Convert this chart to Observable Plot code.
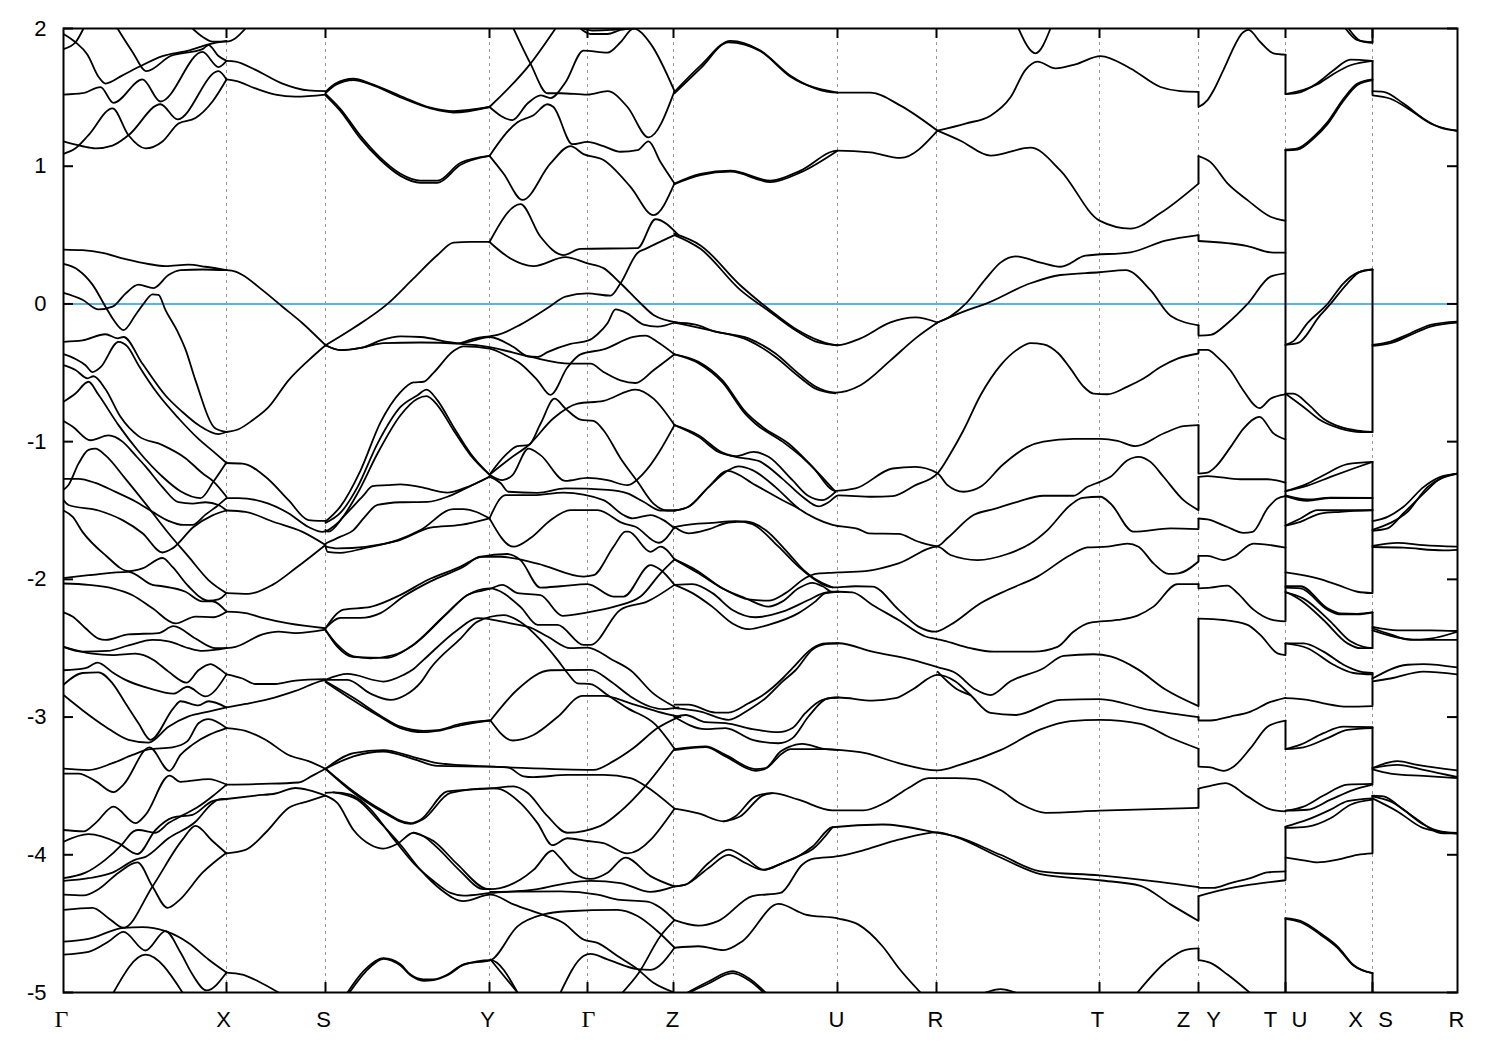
<!DOCTYPE html>
<html><head><meta charset="utf-8">
<script src="https://cdn.jsdelivr.net/npm/d3@7"></script>
<script src="https://cdn.jsdelivr.net/npm/@observablehq/plot@0.6"></script>
<style>html,body{margin:0;padding:0;background:#fff}svg{display:block}</style>
</head><body><div id="chart"></div>
<script>
// Every band is a flat list: k, E, k, E ... (k = distance along the path, E = energy in eV)
const bandsGammaX = [
[63,1.96,75,1.90,87,1.81,98,1.65,105,1.60,122,1.66,138,1.72,162,1.80,188,1.84,208,1.885,226,1.91],
[63,1.85,75,1.90,83,2],
[192,2,202,1.94,212,1.905,226,1.905,235,1.93,245,2],
[117,2,132,1.83,146,1.69,170,1.80,202,1.85,208,1.88,218,1.80,226,1.765],
[63,1.52,82,1.53,100,1.575,113,1.46,142,1.63,160,1.47,202,1.83,218,1.72,226,1.765],
[63,1.09,75,1.13,88,1.225,112,1.42,128,1.225,145,1.13,162,1.18,178,1.31,195,1.35,212,1.47,226,1.63],
[63,1.18,82,1.145,95,1.13,112,1.15,128,1.225,160,1.45,177,1.34,218,1.69,226,1.63],
[63,.395,82,.39,102,.37,125,.325,148,.29,165,.275,188,.285,205,.27,226,.245],
[63,.29,78,.245,92,.14,105,-.02,113,-.115,123,-.19,135,-.08,143,0,152,.07,158,.065,165,-.045,177,-.20,185,-.33,195,-.555,215,-.905,226,-.93],
[63,.08,82,.03,98,-.04,112,-.02,125,.075,138,.14,153,.115,168,.21,180,.245,202,.25,226,.245],
[63,-.275,82,-.265,105,-.22,117,-.25,123,-.24,142,-.435,165,-.665,182,-.785,198,-.88,218,-.945,226,-.93],
[63,-.365,75,-.40,85,-.445,92,-.495,100,-.46,118,-.275,127,-.31,138,-.445,158,-.66,178,-.83,198,-.98,215,-1.085,226,-1.155],
[63,-.445,75,-.48,87,-.54,93,-.525,105,-.62,120,-.82,138,-.96,162,-1.025,185,-1.12,202,-1.23,213,-1.29,226,-1.40],
[63,-.71,75,-.65,88,-.565,98,-.66,118,-.88,138,-1.07,162,-1.255,180,-1.36,200,-1.41,213,-1.29,226,-1.15],
[63,-.85,72,-.89,90,-.99,108,-.955,122,-1.0,135,-1.10,145,-1.18,162,-1.33,178,-1.44,192,-1.45,205,-1.44,218,-1.46,226,-1.50],
[63,-1.35,68,-1.315,78,-1.16,88,-1.06,95,-1.05,105,-1.10,125,-1.27,145,-1.45,168,-1.665,188,-1.835,208,-2.005,226,-2.10],
[63,-1.27,78,-1.27,95,-1.30,115,-1.365,135,-1.435,152,-1.51,168,-1.575,183,-1.605,192,-1.605,205,-1.53,218,-1.46,226,-1.41],
[63,-1.425,68,-1.46,98,-1.50,122,-1.57,142,-1.665,162,-1.805,172,-1.775,193,-1.62,212,-1.535,226,-1.50],
[63,-1.50,72,-1.545,82,-1.655,105,-1.825,128,-1.94,142,-1.92,162,-1.845,172,-1.91,188,-2.05,208,-2.155,218,-2.145,226,-2.10],
[63,-1.99,88,-1.97,128,-1.945,152,-2.04,162,-2.05,185,-2.09,202,-2.16,212,-2.16,226,-2.235],
[63,-2.03,88,-2.04,112,-2.065,132,-2.115,152,-2.21,175,-2.32,195,-2.27,213,-2.275,226,-2.235],
[63,-2.24,72,-2.27,85,-2.355,98,-2.43,105,-2.44,128,-2.40,158,-2.39,173,-2.34,195,-2.43,215,-2.50,226,-2.50],
[63,-2.49,82,-2.525,107,-2.52,128,-2.48,152,-2.44,168,-2.45,188,-2.50,202,-2.52,226,-2.50],
[63,-2.49,92,-2.54,112,-2.55,135,-2.54,153,-2.585,168,-2.67,186,-2.75,198,-2.66,210,-2.615,218,-2.645,226,-2.69],
[63,-2.66,85,-2.645,97,-2.605,113,-2.68,125,-2.73,148,-2.79,173,-2.83,187,-2.78,205,-2.85,226,-2.69],
[63,-2.765,82,-2.68,98,-2.675,112,-2.755,125,-2.90,138,-3.045,150,-3.165,173,-2.935,180,-2.885,198,-2.915,208,-2.885,226,-2.93],
[63,-2.84,82,-2.95,105,-3.07,128,-3.165,148,-3.185,168,-3.07,188,-2.995,208,-2.96,226,-2.93],
[63,-3.375,88,-3.385,112,-3.335,132,-3.275,148,-3.235,172,-3.22,187,-3.175,198,-3.045,208,-3.015,226,-3.08],
[63,-3.41,78,-3.41,95,-3.465,113,-3.545,123,-3.49,149,-3.22,169,-3.39,180,-3.275,192,-3.20,226,-3.08],
[63,-3.82,83,-3.83,95,-3.77,113,-3.65,135,-3.77,145,-3.71,169,-3.425,180,-3.47,208,-3.45,226,-3.49],
[63,-4.17,85,-4.13,105,-4.035,122,-3.92,133,-3.83,138,-3.82,155,-3.84,168,-3.77,183,-3.71,198,-3.65,212,-3.575,226,-3.49],
[63,-3.905,88,-3.85,118,-3.915,137,-3.995,155,-3.82,172,-3.73,192,-3.71,212,-3.61,218,-3.60,226,-3.595],
[63,-4.19,88,-4.17,112,-4.13,135,-4.035,145,-4.015,168,-3.88,195,-3.76,212,-3.625,218,-3.60,226,-3.595],
[63,-4.29,83,-4.295,98,-4.25,118,-4.13,137,-4.055,152,-4.23,167,-4.385,178,-4.335,202,-4.13,226,-3.985],
[63,-4.40,92,-4.385,108,-4.46,123,-4.53,152,-4.23,182,-3.89,195,-3.79,212,-3.90,226,-3.99],
[63,-4.63,88,-4.61,123,-4.53,142,-4.525,165,-4.555,188,-4.64,208,-4.76,226,-4.855],
[63,-4.725,88,-4.705,108,-4.63,123,-4.56,145,-4.695,165,-4.555,180,-4.71,192,-4.87,206,-4.985,226,-4.855],
[113,-5,145,-4.725,182,-5]
];
const bandsXS = [
[226,1.765,235,1.76,255,1.70,282,1.60,308,1.55,325,1.545],
[226,1.63,235,1.62,255,1.565,275,1.52,295,1.505,325,1.52],
[226,.245,235,.235,242,.21,262,.10,282,-.02,302,-.14,325,-.30],
[226,-.93,238,-.91,252,-.845,268,-.75,288,-.555,308,-.41,325,-.30],
[226,-1.155,242,-1.16,265,-1.255,288,-1.425,308,-1.57,318,-1.575,325,-1.575],
[226,-1.41,238,-1.41,268,-1.45,288,-1.52,308,-1.62,322,-1.655,325,-1.65],
[226,-1.50,245,-1.51,272,-1.58,302,-1.655,325,-1.75],
[226,-2.10,248,-2.105,272,-2.04,295,-1.92,325,-1.75],
[226,-2.235,245,-2.245,262,-2.28,288,-2.32,325,-2.355],
[226,-2.50,235,-2.49,262,-2.40,278,-2.38,295,-2.39,325,-2.365],
[226,-2.69,242,-2.72,255,-2.76,275,-2.76,295,-2.735,325,-2.725],
[226,-2.93,245,-2.905,268,-2.87,295,-2.81,322,-2.735,325,-2.73],
[226,-3.08,245,-3.10,265,-3.165,288,-3.275,308,-3.32,325,-3.375],
[226,-3.49,262,-3.485,298,-3.475,312,-3.425,325,-3.375],
[226,-3.595,255,-3.57,275,-3.555,295,-3.515,308,-3.53,325,-3.57],
[226,-3.99,245,-3.965,265,-3.84,288,-3.66,308,-3.61,325,-3.57],
[226,-4.855,242,-4.87,258,-4.92,278,-5]
];
const bandsSY = [
[325,1.54,335,1.60,353,1.635,370,1.60,400,1.51,430,1.425,453,1.40,489,1.43],
[325,1.53,335,1.59,353,1.625,370,1.595,400,1.50,430,1.42,453,1.39,489,1.43],
[325,1.525,340,1.415,360,1.22,380,1.06,400,.945,420,.895,437,.895,460,1.025,489,1.075],
[325,1.515,340,1.40,360,1.20,380,1.045,400,.93,420,.88,437,.88,460,1.01,489,1.075],
[325,-.30,353,-.175,387,0,413,.185,437,.355,453,.445,470,.45,489,.45],
[325,-.30,340,-.335,363,-.315,380,-.265,400,-.235,420,-.24,460,-.285,489,-.24,513,-.313,527,-.38,537,-.385,547,-.35,570,-.29,588,-.265,597,-.22,607,-.14,615,-.04,627,-.07,643,-.15,657,-.165,674,-.135],
[325,-.30,340,-.335,363,-.315,383,-.285,420,-.28,460,-.29,489,-.313,530,-.385,570,-.434,590,-.434,603,-.494,620,-.555,635,-.574,653,-.482,674,-.366],
[325,-1.58,340,-1.47,360,-1.21,380,-.86,400,-.64,413,-.57,423,-.565,433,-.50,453,-.342,463,-.308,489,-.325,507,-.38,520,-.434,537,-.555,550,-.66,567,-.46,580,-.366,603,-.33,633,-.24,645,-.23,657,-.276,674,-.366],
[325,-1.59,340,-1.516,357,-1.33,377,-1.014,400,-.748,417,-.663,426,-.622,437,-.70,453,-.893,470,-1.086,489,-1.24],
[325,-1.655,340,-1.57,357,-1.376,377,-1.086,400,-.808,417,-.688,426,-.67,437,-.736,453,-.917,470,-1.098,489,-1.24],
[325,-1.64,328,-1.654,343,-1.545,363,-1.39,372,-1.323,387,-1.316,400,-1.31,420,-1.33,447,-1.37,463,-1.34,489,-1.255],
[325,-1.74,340,-1.69,353,-1.642,363,-1.557,377,-1.46,400,-1.44,427,-1.437,447,-1.40,463,-1.347,489,-1.255],
[325,-1.76,327,-1.80,340,-1.807,363,-1.775,397,-1.715,420,-1.642,453,-1.49,463,-1.49,489,-1.557],
[325,-1.76,337,-1.775,397,-1.72,430,-1.625,460,-1.605,489,-1.557],
[325,-2.355,343,-2.22,370,-2.20,400,-2.113,427,-2.005,460,-1.908,480,-1.836,507,-1.816,520,-1.86,540,-2.06,560,-2.05,587,-2.034,613,-2.125,623,-2.125,650,-1.896,660,-1.93,674,-2.04],
[325,-2.355,340,-2.28,360,-2.28,380,-2.245,403,-2.125,430,-2.015,463,-1.908,480,-1.836,500,-1.836,537,-1.885,583,-1.98,593,-1.97,613,-1.763,625,-1.654,628,-1.654,650,-1.80,660,-1.763,674,-1.855],
[325,-2.367,337,-2.476,353,-2.56,370,-2.573,393,-2.55,413,-2.476,447,-2.245,467,-2.113,489,-2.07,502,-2.04,517,-2.10,540,-2.115,562,-2.265,587,-2.24,613,-2.20,640,-2.125,660,-1.956,674,-1.855],
[325,-2.367,337,-2.49,353,-2.565,387,-2.57,410,-2.49,443,-2.27,467,-2.113,489,-2.065,520,-2.20,537,-2.33,557,-2.33,583,-2.476,590,-2.476,620,-2.22,647,-2.16,674,-2.04],
[325,-2.73,347,-2.687,383,-2.742,403,-2.694,412,-2.657,423,-2.585,457,-2.367,477,-2.282,490,-2.29,510,-2.32,530,-2.35,547,-2.415,570,-2.50,587,-2.495,612,-2.585,630,-2.66,653,-2.83,674,-2.925],
[325,-2.73,347,-2.73,370,-2.83,390,-2.875,405,-2.84,420,-2.75,430,-2.645,460,-2.43,477,-2.307,503,-2.26,520,-2.31,540,-2.44,557,-2.585,567,-2.68,577,-2.755,590,-2.76,607,-2.84,627,-2.935,655,-3.055,674,-3.23],
[325,-2.74,353,-2.86,380,-2.99,400,-3.07,423,-3.10,437,-3.095,460,-3.05,489,-3.025],
[325,-2.745,353,-2.88,380,-3.0,400,-3.08,423,-3.11,437,-3.10,460,-3.06,489,-3.025],
[325,-3.375,353,-3.262,383,-3.24,413,-3.29,437,-3.335,490,-3.36,507,-3.365,593,-3.383,613,-3.32,633,-3.225,657,-3.08,678,-3.0],
[325,-3.375,353,-3.285,383,-3.25,413,-3.305,437,-3.355,490,-3.36,507,-3.365,523,-3.43,533,-3.436,567,-3.42,603,-3.42,630,-3.443,645,-3.50,674,-3.665],
[325,-3.375,353,-3.54,380,-3.67,410,-3.77,420,-3.745,447,-3.54,490,-3.518,513,-3.503,527,-3.55,547,-3.72,567,-3.84,600,-3.79,620,-3.685,645,-3.50,674,-3.23],
[325,-3.375,353,-3.55,380,-3.68,410,-3.775,423,-3.74,450,-3.55,490,-3.518,497,-3.52,520,-3.625,537,-3.77,552,-3.93,567,-3.88,587,-3.90,603,-3.915,627,-3.99,674,-3.665],
[325,-3.57,337,-3.625,353,-3.82,370,-3.927,383,-3.955,397,-3.92,413,-3.84,423,-3.865,437,-3.95,460,-4.12,483,-4.25,490,-4.25,520,-4.18,533,-4.11,552,-3.97,558,-4.01,573,-4.13,590,-4.175,607,-4.13,625,-4.02,650,-4.155,674,-4.23],
[413,-3.84,433,-3.90,457,-4.07,485,-4.245,490,-4.25],
[325,-3.55,333,-3.547,350,-3.564,370,-3.67,390,-3.855,413,-4.06,433,-4.19,450,-4.277,463,-4.296,490,-4.277,537,-4.25,567,-4.205,590,-4.19,620,-4.205,650,-4.27,674,-4.23],
[333,-3.547,357,-3.6,377,-3.745,400,-3.927,420,-4.11,440,-4.25,463,-4.337,490,-4.29,513,-4.36,542,-4.435,563,-4.495,583,-4.615,597,-4.64,617,-4.735,637,-4.83,653,-4.93,672,-4.995],
[490,-4.27,560,-4.265,597,-4.29,617,-4.325,647,-4.34,660,-4.385,674,-4.475],
[347,-5,363,-4.845,383,-4.75,400,-4.795,410,-4.87,423,-4.905,433,-4.905,447,-4.87,463,-4.795,490,-4.765,517,-4.52,542,-4.435,567,-4.41,617,-4.40,637,-4.445,657,-4.555,674,-4.675],
[349,-5,365,-4.85,383,-4.755,400,-4.805,410,-4.875,423,-4.915,433,-4.91,447,-4.875,463,-4.80,490,-4.765,517,-5]
];
const bandsYGammaZ = [
[489,1.43,530,1.745,555,2],
[489,1.43,512,1.335,527,1.455,540,1.515,550,1.495,565,1.61,583,1.84,607,1.825,620,1.90,633,2,650,1.89,674,1.545],
[580,2,590,1.96,607,1.96,620,1.99,633,2],
[582,2,592,1.985,610,1.99,622,2],
[513,2,530,1.745,547,1.53,560,1.53,587,1.52,607,1.545,627,1.43,648,1.21,674,1.545],
[489,1.075,517,1.32,533,1.37,547,1.45,553,1.43,572,1.16,587,1.177,603,1.146,620,1.105,637,1.117,648,1.18,660,1.03,674,.875],
[489,1.075,503,.947,522,.755,550,1.02,570,1.146,583,1.088,603,1.045,630,.85,653,.645,674,.875],
[489,.45,520,.725,540,.488,563,.355,580,.40,637,.405,655,.615,678,.50],
[489,.45,510,.33,533,.275,565,.34,587,.295,603,.26,620,.15,640,.005,653,-.08,677,-.135],
[460,-.285,475,-.25,489,-.235,497,-.225,520,-.15,547,-.03,565,.053,587,.077,610,.06,620,.15,637,.37,645,.40,674,.50],
[489,-1.24,502,-1.28,512,-1.243,528,-1.05,540,-1.098,565,-1.285,587,-1.263,607,-1.28,627,-1.316,643,-1.23,674,-.88],
[489,-1.24,505,-1.098,517,-1.033,528,-1.026,540,-.87,554,-.688,565,-.76,580,-.84,593,-.85,603,-.917,620,-1.12,637,-1.29,653,-1.45,667,-1.50,674,-1.50],
[489,-1.24,510,-1.12,528,-1.026,553,-.83,577,-.724,603,-.704,635,-.622,653,-.688,674,-.88],
[489,-1.255,500,-1.30,508,-1.364,537,-1.372,565,-1.34,607,-1.35,627,-1.376,643,-1.437,660,-1.50,674,-1.50],
[489,-1.557,505,-1.388,533,-1.388,563,-1.37,603,-1.425,623,-1.533,632,-1.557,650,-1.533,663,-1.57,674,-1.63],
[489,-1.557,513,-1.763,530,-1.70,550,-1.57,570,-1.497,597,-1.497,623,-1.594,635,-1.618,658,-1.734,674,-1.62],
[490,-3.025,517,-2.80,550,-2.66,590,-2.657,610,-2.74,630,-2.85,650,-2.925,663,-2.943,678,-2.93],
[490,-3.025,512,-3.17,533,-3.13,557,-3.0,582,-2.846,603,-2.846,630,-2.90,657,-2.96,680,-3.0],
[490,-4.76,517,-5],
[560,-5,583,-4.735,590,-4.72,607,-4.76,637,-4.83,650,-4.835,674,-4.675],
[622,-5,638,-4.86,660,-4.59,674,-4.475]
];
const bandsZU = [
[674,1.54,700,1.73,730,1.91,760,1.84,790,1.657,837,1.534,870,1.534,900,1.44,937,1.258],
[674,1.53,700,1.71,728,1.90,760,1.835,790,1.65,837,1.534],
[674,.874,700,.945,730,.967,770,.895,800,.968,837,1.113,870,1.10,900,1.06,937,1.258],
[674,.87,700,.935,730,.96,770,.885,800,.955,837,1.113],
[674,.51,700,.425,740,.134,770,-.047,797,-.19,818,-.265,837,-.30,860,-.25,890,-.134,915,-.098,937,-.135],
[674,.50,700,.40,740,.10,770,-.06,797,-.20,818,-.28,837,-.30],
[674,-.135,695,-.15,713,-.197,748,-.25,775,-.36,798,-.506,815,-.60,835,-.644,860,-.59,890,-.41,915,-.25,937,-.135],
[674,-.135,713,-.197,748,-.265,775,-.385,798,-.525,815,-.615,835,-.65],
[674,-.366,698,-.42,722,-.555,745,-.784,762,-.893,788,-1.014,812,-1.183,835,-1.357,855,-1.34,892,-1.195,915,-1.183,937,-1.23,947,-1.316,963,-1.364,980,-1.328,1002,-1.17,1027,-1.038,1043,-1.0,1073,-.98,1100,-.98,1117,-.994,1135,-1.033,1163,-.941,1183,-.888,1198,-.88],
[674,-.366,698,-.43,722,-.57,745,-.80,755,-.87,782,-1.0,805,-1.135,835,-1.365],
[674,-.88,698,-.953,722,-1.08,735,-1.105,753,-1.075,768,-1.11,792,-1.28,808,-1.395,822,-1.425,835,-1.365],
[674,-.88,698,-.965,718,-1.075,735,-1.11,758,-1.14,782,-1.27,802,-1.40,818,-1.47,828,-1.44,838,-1.39,872,-1.40,892,-1.396,915,-1.316,937,-1.23,950,-1.086,963,-.917,980,-.663,1000,-.446,1018,-.325,1030,-.284,1043,-.293,1058,-.36,1070,-.47,1083,-.60,1093,-.651,1107,-.656,1127,-.60,1143,-.542,1160,-.458,1177,-.397,1198,-.36],
[674,-1.50,688,-1.473,708,-1.33,728,-1.207,738,-1.18,752,-1.207,775,-1.33,798,-1.485,815,-1.557,832,-1.605,858,-1.635,868,-1.666,898,-1.67,918,-1.727,937,-1.758,947,-1.70,973,-1.533,993,-1.49,1017,-1.437,1043,-1.393,1073,-1.393,1087,-1.328,1100,-1.29,1110,-1.255,1127,-1.135,1138,-1.11,1150,-1.147,1163,-1.255,1183,-1.425,1198,-1.497],
[674,-1.50,688,-1.473,708,-1.33,727,-1.212,755,-1.316,785,-1.437,798,-1.485],
[674,-1.62,688,-1.666,708,-1.637,728,-1.587,745,-1.58,765,-1.642,785,-1.787,805,-1.945,813,-1.99,832,-2.058],
[674,-1.62,685,-1.606,712,-1.59,735,-1.577,752,-1.60,778,-1.763,798,-1.908,812,-1.99,832,-2.058,855,-2.05,872,-2.053,898,-2.22,918,-2.343,935,-2.38,950,-2.33,980,-2.174,1007,-2.077,1037,-1.98,1070,-1.823,1087,-1.768,1107,-1.763,1127,-1.74,1138,-1.763,1153,-1.884,1168,-1.96,1178,-1.956,1198,-1.87],
[674,-1.855,698,-1.956,725,-2.077,748,-2.145,768,-2.155,785,-2.10,805,-1.99,815,-1.96,828,-1.953,838,-1.95,865,-1.94,898,-1.884,937,-1.763,950,-1.823,977,-1.86,1007,-1.816,1030,-1.74,1047,-1.642,1070,-1.46,1082,-1.408,1100,-1.40,1110,-1.449,1133,-1.654,1170,-1.63,1198,-1.635],
[674,-1.855,695,-1.93,722,-2.065,745,-2.137,768,-2.198,782,-2.16,798,-2.065,812,-2.025,822,-2.05,832,-2.09,838,-2.09,852,-2.095,872,-2.186,898,-2.295,925,-2.415,937,-2.435,943,-2.445,970,-2.50,993,-2.525,1033,-2.525,1057,-2.49,1073,-2.38,1090,-2.315,1117,-2.295,1137,-2.263,1153,-2.198,1177,-2.034,1198,-2.034],
[674,-2.04,692,-2.034,712,-2.10,732,-2.222,755,-2.275,782,-2.235,808,-2.15,825,-2.096,838,-2.09],
[674,-2.04,692,-2.10,712,-2.20,732,-2.32,748,-2.362,768,-2.33,798,-2.245,815,-2.16,825,-2.10,838,-2.09],
[674,-2.91,688,-2.91,715,-2.967,728,-2.967,748,-2.90,765,-2.827,782,-2.72,792,-2.645,812,-2.50,825,-2.465,838,-2.464,872,-2.525,912,-2.585,937,-2.638,955,-2.68,975,-2.80,990,-2.84,1010,-2.74,1043,-2.645,1063,-2.556,1093,-2.544,1110,-2.56,1137,-2.652,1165,-2.80,1198,-2.92],
[674,-2.935,700,-2.96,728,-3.02,748,-2.948,765,-2.863,782,-2.742,795,-2.66,812,-2.51,825,-2.47,838,-2.464],
[674,-3.0,685,-2.985,705,-3.037,725,-3.044,752,-3.088,778,-3.11,792,-3.08,805,-2.97,822,-2.875,838,-2.858,872,-2.88,895,-2.863,912,-2.80,937,-2.694,955,-2.742,970,-2.84,990,-2.97,1015,-2.985,1060,-2.875,1099,-2.87,1150,-2.95,1198,-3.0],
[674,-3.0,705,-3.088,725,-3.08,752,-3.165,778,-3.19,792,-3.153,808,-2.996,828,-2.863,838,-2.858],
[674,-3.233,705,-3.213,725,-3.274,755,-3.378,765,-3.37,780,-3.25,788,-3.218,802,-3.194,825,-3.233,838,-3.238,865,-3.262,898,-3.334,937,-3.387,960,-3.345,1000,-3.24,1040,-3.09,1070,-3.03,1100,-3.02,1140,-3.05,1170,-3.15,1198,-3.23],
[674,-3.24,705,-3.218,725,-3.285,755,-3.39,765,-3.375,782,-3.262,790,-3.233,825,-3.233,838,-3.238],
[674,-3.665,698,-3.70,723,-3.757,735,-3.72,755,-3.576,772,-3.552,798,-3.60,832,-3.677,863,-3.677,885,-3.62,908,-3.515,928,-3.443,955,-3.443,975,-3.45,1000,-3.53,1020,-3.63,1045,-3.695,1099,-3.68,1198,-3.66],
[723,-3.757,740,-3.72,762,-3.57,772,-3.552],
[674,-4.23,685,-4.217,708,-4.06,728,-3.963,745,-4.023,763,-4.108,782,-4.06,798,-4.01,812,-3.94,832,-3.80,882,-3.78,937,-3.84,955,-3.866,1000,-4.0,1040,-4.12,1099,-4.15,1150,-4.19,1198,-4.235],
[674,-4.23,685,-4.217,708,-4.096,728,-4.0,745,-4.06,763,-4.11,782,-4.06,798,-4.01,812,-3.96,832,-3.80],
[674,-4.475,698,-4.515,718,-4.48,752,-4.30,780,-4.277,802,-4.07,812,-4.03,838,-4.01,865,-3.963,898,-3.89,937,-3.837,955,-3.87,1000,-4.02,1040,-4.14,1099,-4.185,1140,-4.225,1170,-4.36,1198,-4.48],
[674,-4.675,698,-4.664,723,-4.693,742,-4.627,778,-4.357,805,-4.434,838,-4.463,858,-4.507,882,-4.664,898,-4.82,920,-5],
[687,-5,708,-4.92,732,-4.845,748,-4.895,765,-5],
[689,-5,708,-4.935,732,-4.86,748,-4.91,763,-5]
];
const bandsRTZ = [
[937,1.258,965,1.31,990,1.367,1010,1.50,1025,1.70,1037,1.76,1055,1.71,1075,1.74,1100,1.80,1130,1.71,1160,1.575,1180,1.545,1198,1.54],
[937,1.258,960,1.185,990,1.077,1030,1.135,1060,.968,1099,.605,1130,.547,1160,.66,1198,.874],
[1018,2,1035,1.82,1050,2],
[937,-.135,950,-.09,965,0,985,.18,1000,.30,1015,.345,1040,.30,1060,.27,1085,.35,1130,.375,1165,.46,1198,.50],
[937,-.135,965,-.05,985,0,1030,.15,1060,.21,1099,.23,1125,.245,1150,.10,1170,-.085,1198,-.155],
[937,-2.67,955,-2.79,970,-2.84],
[985,-5,1000,-4.975,1015,-5],
[1137,-5,1165,-4.78,1185,-4.69,1198,-4.68]
];
const bandsYT = [
[1198,1.43,1207,1.48,1213,1.55,1223,1.70,1243,1.975,1248,1.99,1260,1.90,1273,1.82,1285,1.81],
[1198,1.073,1210,1.03,1227,.875,1247,.754,1270,.633,1285,.604],
[1198,.457,1247,.42,1270,.375,1285,.372],
[1198,-.23,1210,-.225,1227,-.14,1247,0,1270,.198,1285,.222],
[1198,-.333,1207,-.333,1217,-.386,1230,-.483,1243,-.63,1259,-.756,1270,-.688,1285,-.656],
[1198,-1.232,1207,-1.225,1215,-1.183,1230,-1.04,1243,-.905,1259,-.82,1273,-.94,1285,-.983],
[1198,-1.256,1207,-1.25,1240,-1.273,1267,-1.273,1285,-1.297],
[1198,-1.558,1207,-1.565,1227,-1.62,1243,-1.662,1252,-1.655,1267,-1.485,1277,-1.413,1285,-1.396],
[1198,-1.83,1207,-1.83,1223,-1.86,1233,-1.836,1253,-1.74,1285,-1.77],
[1198,-2.065,1210,-2.06,1227,-2.045,1237,-2.10,1253,-2.22,1270,-2.29,1285,-2.305],
[1198,-2.285,1223,-2.295,1247,-2.33,1260,-2.405,1277,-2.537,1285,-2.55],
[1198,-3.025,1210,-3.025,1230,-2.996,1250,-2.96,1270,-2.89,1285,-2.86],
[1198,-3.36,1210,-3.366,1223,-3.39,1233,-3.36,1250,-3.226,1267,-3.07,1285,-3.025],
[1198,-3.52,1210,-3.50,1225,-3.48,1247,-3.576,1270,-3.67,1285,-3.685],
[1198,-4.24,1213,-4.24,1230,-4.205,1250,-4.17,1267,-4.128,1285,-4.12],
[1198,-4.30,1223,-4.253,1250,-4.217,1285,-4.185],
[1198,-4.765,1210,-4.785,1227,-4.87,1249,-5]
];
const bandsUX = [
[1285,1.523,1297,1.532,1317,1.605,1333,1.697,1350,1.774,1372,1.765],
[1285,1.523,1317,1.595,1333,1.67,1350,1.733,1372,1.765],
[1285,1.12,1297,1.13,1313,1.213,1327,1.32,1343,1.49,1357,1.60,1372,1.63],
[1285,1.115,1297,1.12,1313,1.20,1327,1.305,1343,1.475,1357,1.59,1372,1.625],
[1345,2,1357,1.915,1372,1.90],
[1348,2,1360,1.91,1372,1.895],
[1285,-.297,1293,-.27,1307,-.14,1327,0,1343,.15,1357,.227,1372,.25],
[1285,-.297,1297,-.285,1320,-.08,1330,0,1347,.15,1360,.235,1372,.25],
[1285,-.652,1293,-.652,1307,-.724,1323,-.833,1340,-.893,1357,-.92,1372,-.93],
[1285,-.652,1303,-.748,1320,-.845,1340,-.905,1360,-.93,1372,-.93],
[1285,-1.36,1307,-1.305,1323,-1.244,1347,-1.164,1372,-1.147],
[1285,-1.36,1307,-1.32,1330,-1.256,1353,-1.195,1372,-1.147],
[1285,-1.39,1307,-1.42,1330,-1.406,1372,-1.408],
[1285,-1.395,1307,-1.43,1330,-1.41,1372,-1.41],
[1285,-1.61,1300,-1.558,1317,-1.498,1340,-1.498,1372,-1.498],
[1285,-1.61,1300,-1.582,1320,-1.522,1340,-1.51,1372,-1.498],
[1285,-1.95,1317,-1.993,1337,-2.04,1357,-2.09,1372,-2.10],
[1285,-2.05,1300,-2.05,1327,-2.21,1340,-2.247,1357,-2.25,1372,-2.24],
[1285,-2.06,1300,-2.065,1327,-2.22,1340,-2.255,1357,-2.255,1372,-2.24],
[1285,-2.09,1300,-2.15,1323,-2.295,1347,-2.465,1360,-2.50,1372,-2.50],
[1285,-2.095,1303,-2.14,1330,-2.307,1350,-2.45,1363,-2.49,1372,-2.50],
[1285,-2.465,1303,-2.465,1323,-2.525,1343,-2.62,1360,-2.67,1372,-2.68],
[1285,-2.465,1307,-2.50,1333,-2.62,1353,-2.68,1372,-2.69],
[1285,-2.863,1307,-2.875,1323,-2.90,1347,-2.924,1372,-2.92],
[1285,-3.233,1300,-3.2,1323,-3.117,1343,-3.07,1372,-3.074],
[1285,-3.233,1303,-3.22,1327,-3.153,1347,-3.093,1372,-3.08],
[1285,-3.68,1303,-3.65,1323,-3.57,1347,-3.49,1372,-3.485],
[1285,-3.68,1307,-3.673,1330,-3.60,1353,-3.528,1372,-3.49],
[1285,-3.795,1307,-3.745,1330,-3.672,1347,-3.61,1372,-3.59],
[1285,-3.805,1307,-3.795,1330,-3.735,1350,-3.637,1372,-3.60],
[1285,-4.02,1303,-4.04,1317,-4.055,1337,-4.035,1357,-4.0,1372,-3.99],
[1285,-4.46,1300,-4.48,1320,-4.57,1337,-4.665,1353,-4.80,1372,-4.86],
[1285,-4.465,1300,-4.49,1320,-4.58,1337,-4.675,1353,-4.805,1372,-4.86]
];
const bandsSR = [
[1372,1.545,1383,1.54,1403,1.455,1423,1.345,1440,1.28,1457,1.257],
[1372,1.515,1390,1.49,1410,1.407,1430,1.31,1457,1.257],
[1372,-.297,1390,-.273,1410,-.213,1430,-.152,1457,-.128],
[1372,-.305,1390,-.285,1410,-.225,1430,-.165,1457,-.135],
[1372,-1.577,1387,-1.546,1403,-1.473,1423,-1.33,1440,-1.256,1457,-1.232],
[1372,-1.647,1387,-1.63,1403,-1.52,1423,-1.377,1440,-1.268,1457,-1.232],
[1372,-1.64,1390,-1.59,1407,-1.51,1427,-1.33,1457,-1.232],
[1372,-1.757,1397,-1.735,1423,-1.752,1457,-1.763],
[1372,-1.765,1403,-1.77,1443,-1.79,1457,-1.785],
[1372,-2.345,1397,-2.37,1430,-2.37,1457,-2.375],
[1372,-2.355,1390,-2.40,1410,-2.44,1430,-2.43,1457,-2.38],
[1372,-2.37,1403,-2.43,1423,-2.44,1457,-2.44],
[1372,-2.72,1407,-2.62,1423,-2.615,1457,-2.64],
[1372,-2.74,1390,-2.72,1423,-2.67,1457,-2.69],
[1372,-3.37,1397,-3.32,1417,-3.347,1457,-3.388],
[1372,-3.37,1397,-3.347,1423,-3.383,1457,-3.436],
[1372,-3.38,1390,-3.41,1423,-3.427,1457,-3.443],
[1372,-3.57,1383,-3.576,1403,-3.673,1423,-3.78,1440,-3.83,1457,-3.842],
[1372,-3.59,1397,-3.685,1423,-3.806,1457,-3.847],
[1372,-3.575,1390,-3.612,1417,-3.745,1440,-3.842,1457,-3.845]
];
// Straight jumps where the path breaks: k, E from, E to
const pathJumps = [
[1198,1.54,1.43],[1198,.87,1.073],[1198,.50,.457],[1198,-.155,-.23],[1198,-.36,-.333],[1198,-.88,-1.232],[1198,-1.256,-1.497],[1198,-1.558,-1.635],[1198,-1.83,-1.87],[1198,-2.034,-2.065],[1198,-2.285,-2.92],[1198,-3.0,-3.025],[1198,-3.23,-3.36],[1198,-3.52,-3.66],[1198,-4.235,-4.24],[1198,-4.30,-4.48],[1198,-4.68,-4.765],
[1285,1.81,1.523],[1285,1.12,-2.305],[1285,-2.465,-2.55],[1285,-3.025,-3.233],[1285,-3.795,-4.185],[1285,-4.46,-5],
[1372,2,1.895],[1372,1.765,1.515],[1372,.25,-.93],[1372,-1.147,-2.10],[1372,-2.24,-2.50],[1372,-2.68,-2.74],[1372,-2.92,-2.745],[1372,-3.074,-3.485],[1372,-3.57,-3.99],[1372,-4.86,-5]
];
const innerTicks = [226,325,489,587,673,837,936,1099,1198,1285,1372];
const energyTicks = [-5,-4,-3,-2,-1,0,1,2];
const pathLabels = ["Γ","X","S","Y","Γ","Z","U","R","T","Z","Y","T","U","X","S","R"];
const labelPositions = [61,223,323,487,588,672,836,935,1097,1183,1213,1270,1299,1355,1385,1456];
const kMin = 63, kMax = 1457, eMin = -5, eMax = 2;
const tickK = 10, tickE = 0.0726; // inward tick length, in each scale's units

const allBands = [...bandsGammaX,...bandsXS,...bandsSY,...bandsYGammaZ,...bandsZU,...bandsRTZ,...bandsYT,...bandsUX,...bandsSR];
const rows = allBands.flatMap((b,id)=>{
  const out=[];
  for(let i=0;i<b.length;i+=2) out.push({id,k:b[i],E:b[i+1]});
  return out;
});
const labelRows = pathLabels.map((t,i)=>({t,k:labelPositions[i],E:eMin}));
const font = "Liberation Sans, Arial, sans-serif";

const chart = Plot.plot({
  width:1500,height:1050,
  marginLeft:63,marginRight:43,marginTop:28,marginBottom:58,
  style:{fontFamily:font,fontSize:"22px",background:"#fff",color:"#000"},
  x:{domain:[kMin,kMax],axis:null},
  y:{domain:[eMin,eMax],axis:null},
  marks:[
    Plot.ruleX(innerTicks,{stroke:"#999",strokeWidth:1,strokeDasharray:"3,4"}),
    Plot.ruleY([0],{stroke:"#56B4E9",strokeWidth:2}),
    Plot.line(rows,{x:"k",y:"E",z:"id",curve:"monotone-x",stroke:"#000",strokeWidth:1.8,clip:true}),
    Plot.ruleX(pathJumps,{x:d=>d[0],y1:d=>d[1],y2:d=>d[2],stroke:"#000",strokeWidth:2}),
    Plot.ruleY(energyTicks,{x1:kMin,x2:kMin+tickK,stroke:"#000",strokeWidth:2}),
    Plot.ruleY(energyTicks,{x1:kMax-tickK,x2:kMax,stroke:"#000",strokeWidth:2}),
    Plot.ruleX(innerTicks,{y1:eMin,y2:eMin+tickE,stroke:"#000",strokeWidth:2}),
    Plot.ruleX(innerTicks,{y1:eMax-tickE,y2:eMax,stroke:"#000",strokeWidth:2}),
    Plot.text(energyTicks,{x:kMin,y:d=>d,text:d=>String(d),dx:-17,textAnchor:"end",fontSize:22,fill:"#000",fontFamily:font}),
    Plot.text(labelRows.filter(d=>d.t!=="Γ"),{x:"k",y:"E",text:"t",dy:27,fontSize:22,fill:"#000",fontFamily:font}),
    Plot.text(labelRows.filter(d=>d.t==="Γ"),{x:"k",y:"E",text:"t",dy:27,fontSize:24,fill:"#000",fontFamily:"Liberation Serif"}),
    Plot.frame({stroke:"#000",strokeWidth:2})
  ]
});
document.getElementById("chart").appendChild(chart);
</script>
</body></html>
